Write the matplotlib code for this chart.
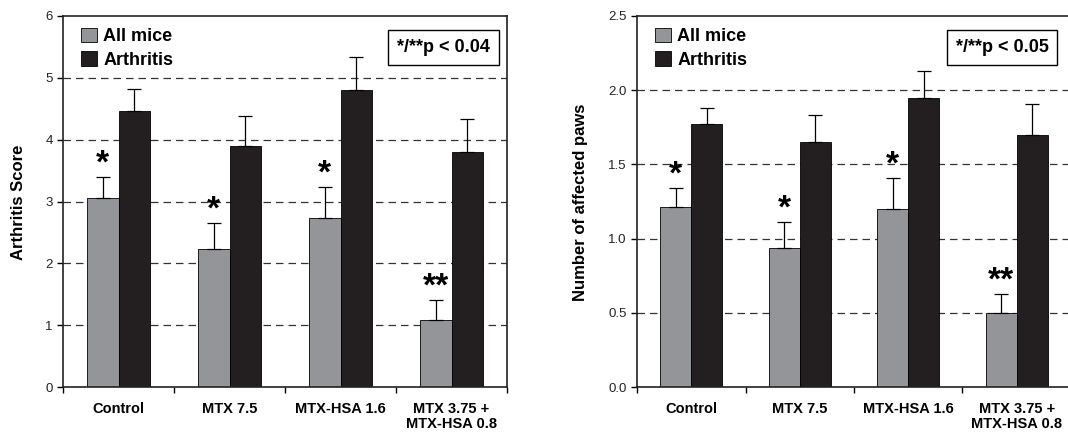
import matplotlib
matplotlib.use("Agg")
import matplotlib.pyplot as plt
import numpy as np

plt.rcParams["font.family"] = ["Liberation Sans", "DejaVu Sans"]

categories = ["Control", "MTX 7.5", "MTX-HSA 1.6", "MTX 3.75 +\nMTX-HSA 0.8"]
series_names = ["All mice", "Arthritis"]
marks = ["*", "*", "*", "**"]

score_all = [3.05, 2.23, 2.74, 1.09]
score_all_err = [0.35, 0.42, 0.50, 0.32]
score_arth = [4.47, 3.90, 4.81, 3.80]
score_arth_err = [0.35, 0.49, 0.53, 0.54]

paws_all = [1.21, 0.94, 1.20, 0.50]
paws_all_err = [0.13, 0.17, 0.21, 0.13]
paws_arth = [1.77, 1.65, 1.95, 1.70]
paws_arth_err = [0.11, 0.18, 0.18, 0.21]

GRAY = "#939598"
BLACK = "#231f20"
W = 0.285


def draw(ax, all_v, all_e, arth_v, arth_e, ymax, yticks, fmt, ptext, px):
    x = np.arange(len(categories))
    b1 = ax.bar(x - W / 2, all_v, W, color=GRAY, edgecolor="black", linewidth=0.6, zorder=2)
    b2 = ax.bar(x + W / 2, arth_v, W, color=BLACK, edgecolor="black", linewidth=0.6, zorder=2)
    ax.errorbar(x - W / 2, all_v, yerr=[np.zeros(len(x)), all_e], fmt="none",
                ecolor="black", elinewidth=0.9, capsize=5, capthick=0.9, zorder=3)
    ax.errorbar(x + W / 2, arth_v, yerr=[np.zeros(len(x)), arth_e], fmt="none",
                ecolor="black", elinewidth=0.9, capsize=5, capthick=0.9, zorder=3)

    # significance stars above the "all mice" bars
    for xi, v, e, m in zip(x, all_v, all_e, marks):
        ax.annotate(m, (xi - W / 2, v + e), xytext=(0, -2), textcoords="offset points",
                    ha="center", va="bottom", fontsize=24, fontweight="bold")

    ax.set_xlim(-0.5, len(categories) - 0.5)
    ax.set_ylim(0, ymax)
    ax.set_yticks(yticks)
    ax.set_yticklabels([fmt.format(t) for t in yticks], fontsize=9.5, color="#222222")
    ax.set_xticks(np.arange(len(categories) + 1) - 0.5)
    ax.set_xticklabels([])
    ax.set_xticks(x, minor=True)
    ax.set_xticklabels(categories, minor=True, fontsize=10.5, fontweight="bold",
                       linespacing=1.05)
    ax.tick_params(axis="x", which="minor", length=0, pad=11)
    ax.tick_params(axis="both", which="major", direction="out", length=4, width=1)

    for t in yticks[1:-1]:
        ax.axhline(t, color="#333333", linewidth=0.9, dashes=(6, 4), zorder=1)
    for s in ax.spines.values():
        s.set_linewidth(1.2)
        s.set_color("#222222")

    ax.legend([b1, b2], series_names, loc="upper left", bbox_to_anchor=(0.005, 1.012),
              frameon=False, prop={"size": 13, "weight": "bold"},
              handlelength=0.85, handleheight=0.85, handletextpad=0.35, labelspacing=0.33)
    ax.text(px, 0.916, ptext, transform=ax.transAxes, ha="center", va="center",
            fontsize=13, fontweight="bold",
            bbox=dict(boxstyle="square,pad=0.5", facecolor="white", edgecolor="black", linewidth=1))


fig = plt.figure(figsize=(10.68, 4.34), dpi=100)
ax1 = fig.add_axes([63 / 1068, 47 / 434, 444 / 1068, 371 / 434])
ax2 = fig.add_axes([637 / 1068, 47 / 434, 434 / 1068, 371 / 434])

draw(ax1, score_all, score_all_err, score_arth, score_arth_err,
     6, [0, 1, 2, 3, 4, 5, 6], "{:g}", "*/**p < 0.04", 0.857)
draw(ax2, paws_all, paws_all_err, paws_arth, paws_arth_err,
     2.5, [0.0, 0.5, 1.0, 1.5, 2.0, 2.5], "{:.1f}", "*/**p < 0.05", 0.841)

fig.text(19 / 1068, 1 - 202 / 434, "Arthritis Score", rotation=90, ha="center", va="center",
         fontsize=12, fontweight="bold")
fig.text(581 / 1068, 1 - 202 / 434, "Number of affected paws", rotation=90, ha="center",
         va="center", fontsize=12, fontweight="bold")

fig.savefig("out.png", dpi=100)
